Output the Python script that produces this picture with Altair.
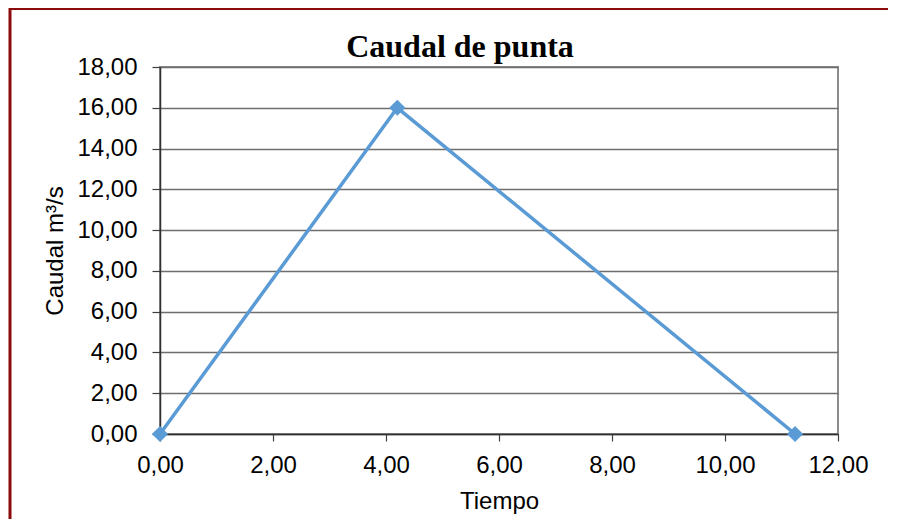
import altair as alt
import pandas as pd

# Data
tiempo = [0.0, 4.2, 11.24]
caudal = [0.0, 16.0, 0.0]
x_ticks = [0, 2, 4, 6, 8, 10, 12]
y_ticks = [0, 2, 4, 6, 8, 10, 12, 14, 16, 18]

df = pd.DataFrame({"Tiempo": tiempo, "Caudal": caudal})

label_expr = "replace(format(datum.value, '.2f'), '.', ',')"

x_enc = alt.X(
    "Tiempo:Q",
    scale=alt.Scale(domain=[0, 12], nice=False, zero=False),
    axis=alt.Axis(
        values=x_ticks,
        labelExpr=label_expr,
        labelFlush=False,
        title="Tiempo",
        grid=False,
        domainColor="#303030",
        domainWidth=1.5,
        tickColor="#404040",
        tickWidth=1.2,
        tickSize=7,
        labelPadding=12,
        titlePadding=12,
    ),
)
y_enc = alt.Y(
    "Caudal:Q",
    scale=alt.Scale(domain=[0, 18], nice=False),
    axis=alt.Axis(
        values=y_ticks,
        labelExpr=label_expr,
        labelFlush=False,
        title="Caudal m³/s",
        grid=True,
        gridColor="#6e6e6e",
        gridWidth=1.3,
        domainColor="#303030",
        domainWidth=1.5,
        tickColor="#404040",
        tickWidth=1.2,
        tickSize=8,
        labelPadding=15,
        titlePadding=9,
    ),
)

line = alt.Chart(df).mark_line(
    color="#5B9BD5",
    strokeWidth=3.5,
    point=alt.OverlayMarkDef(shape="diamond", size=260, filled=True, color="#5B9BD5"),
).encode(x=x_enc, y=y_enc)

frame = alt.Chart(pd.DataFrame({"a": [0]})).mark_rect(
    fillOpacity=0, stroke="#8B0A0A", strokeWidth=3
).encode(
    x=alt.value(-150), x2=alt.value(760), y=alt.value(-58.5), y2=alt.value(500)
)

chart = (
    alt.layer(line, frame)
    .properties(
        width=678,
        height=367,
        autosize=alt.AutoSizeParams(type="none"),
        padding={"left": 152, "top": 59, "right": 50, "bottom": 85},
        title=alt.TitleParams(
            "Caudal de punta",
            font="Liberation Serif",
            fontSize=32,
            fontWeight="bold",
            color="black",
            anchor="middle",
            dx=-39,
            dy=65,
            offset=8,
        ),
    )
    .configure_view(stroke="#8c8c8c", strokeWidth=2)
    .configure_axis(
        labelFont="Liberation Sans",
        labelFontSize=24,
        labelColor="black",
        titleFont="Liberation Sans",
        titleFontSize=24,
        titleFontWeight="normal",
        titleColor="black",
    )
)

chart.save("out.html", embed_options={"renderer": "svg", "actions": False})
